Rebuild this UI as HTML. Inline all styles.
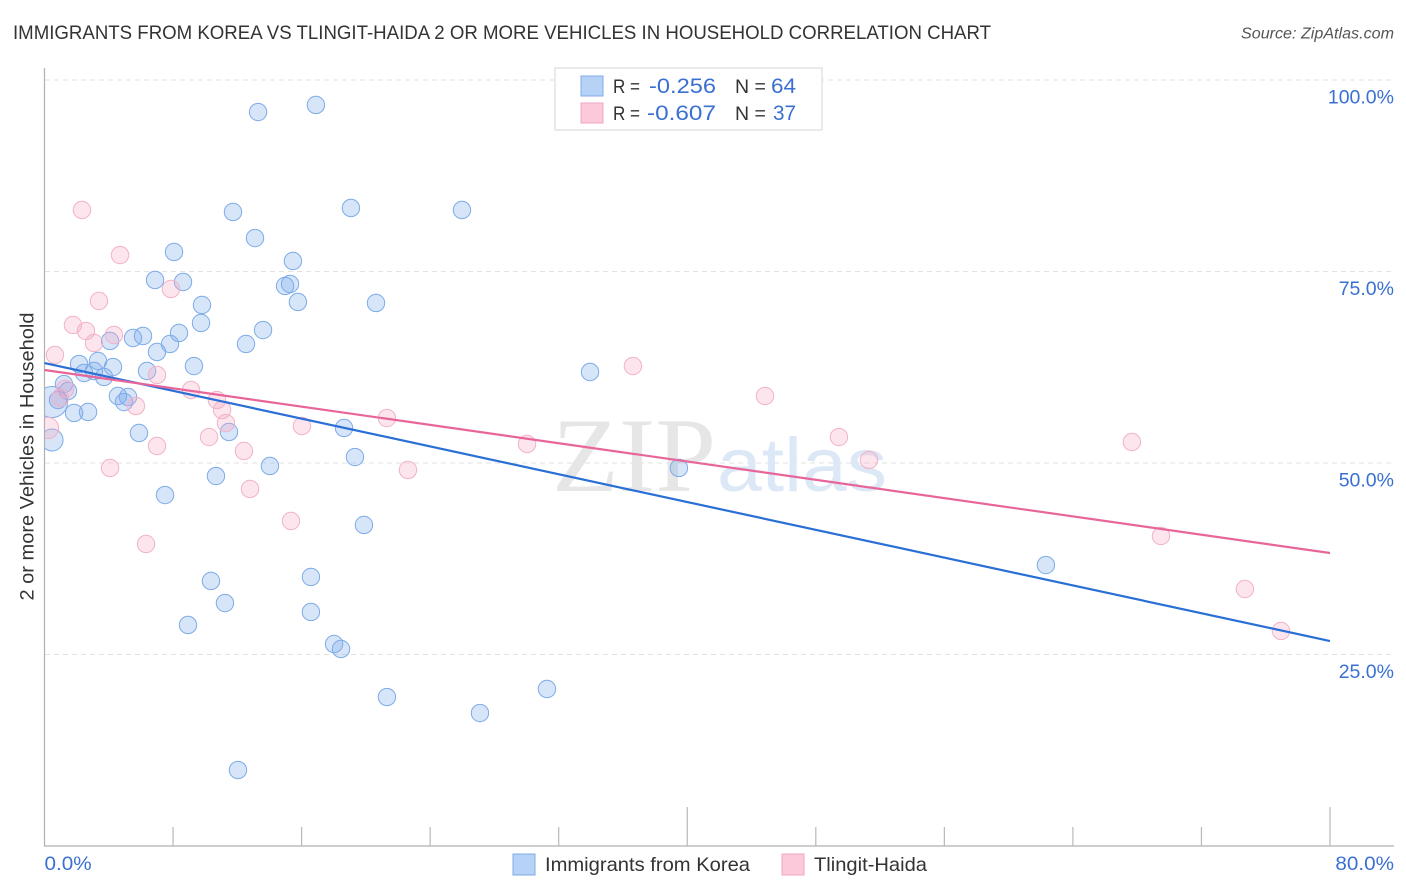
<!DOCTYPE html>
<html lang="en">
<head>
<meta charset="utf-8">
<title>Immigrants from Korea vs Tlingit-Haida correlation chart</title>
<style>
html,body{margin:0;padding:0;background:#fff;}
svg{display:block;font-family:"Liberation Sans",sans-serif;}
</style>
</head>
<body>
<svg id="chart" width="1406" height="892" viewBox="0 0 1406 892" xmlns="http://www.w3.org/2000/svg">
  <defs>
    <clipPath id="plot-clip"><rect x="45" y="60" width="1349" height="786"/></clipPath>
  </defs>
  <text x="13" y="39" font-size="19.5" fill="#333" textLength="978" lengthAdjust="spacingAndGlyphs">IMMIGRANTS FROM KOREA VS TLINGIT-HAIDA 2 OR MORE VEHICLES IN HOUSEHOLD CORRELATION CHART</text>
  <text x="1241" y="38.5" font-size="15.5" font-style="italic" fill="#555" textLength="153" lengthAdjust="spacingAndGlyphs">Source: ZipAtlas.com</text>

  <g id="grid"></g>

  <g>
    <text x="552" y="491" font-family="'Liberation Serif',serif" font-size="106" fill="#e6e6e6" textLength="164" lengthAdjust="spacingAndGlyphs">ZIP</text>
    <text x="717" y="491" font-family="'Liberation Sans',sans-serif" font-size="76" fill="#dde8f7" textLength="170" lengthAdjust="spacingAndGlyphs">atlas</text>
  </g>

  <g id="axes">
    <line x1="44.5" y1="68" x2="44.5" y2="846" stroke="#b0b0b0" stroke-width="1.2"/>
    <line x1="44" y1="846" x2="1394" y2="846" stroke="#b0b0b0" stroke-width="1.2"/>
  </g>

  <g id="korea-points" clip-path="url(#plot-clip)"></g>
  <g id="tlingit-points" clip-path="url(#plot-clip)"></g>
  <g id="trend-lines"></g>

  <text transform="translate(33.5 456.5) rotate(-90)" font-size="19" fill="#333" text-anchor="middle" textLength="288" lengthAdjust="spacingAndGlyphs">2 or more Vehicles in Household</text>

  <g>
    <rect x="555" y="68" width="267" height="62" fill="#fff" stroke="#ddd" stroke-width="1.2"/>
    <rect x="581" y="76" width="22" height="20" fill="#b6d2f6" stroke="#7fabe6" stroke-width="1"/>
    <rect x="581" y="103" width="22" height="20" fill="#fbc9da" stroke="#f2a6c1" stroke-width="1"/>
    <text x="613" y="93" font-size="19.5" fill="#333" textLength="27" lengthAdjust="spacingAndGlyphs">R =</text>
    <text x="649" y="93" font-size="21" fill="#3a70d2" textLength="67" lengthAdjust="spacingAndGlyphs">-0.256</text>
    <text x="735" y="93" font-size="19.5" fill="#333">N =</text>
    <text x="771" y="93" font-size="21" fill="#3a70d2" textLength="25" lengthAdjust="spacingAndGlyphs">64</text>
    <text x="613" y="120" font-size="19.5" fill="#333" textLength="27" lengthAdjust="spacingAndGlyphs">R =</text>
    <text x="647" y="120" font-size="21" fill="#3a70d2" textLength="69" lengthAdjust="spacingAndGlyphs">-0.607</text>
    <text x="735" y="120" font-size="19.5" fill="#333">N =</text>
    <text x="773" y="120" font-size="21" fill="#3a70d2" textLength="23" lengthAdjust="spacingAndGlyphs">37</text>
  </g>

  <g id="tick-labels"></g>

  <g>
    <rect x="513" y="854" width="22" height="21" fill="#b6d2f6" stroke="#7fabe6" stroke-width="1"/>
    <text x="545" y="871" font-size="19.5" fill="#333" textLength="205" lengthAdjust="spacingAndGlyphs">Immigrants from Korea</text>
    <rect x="782" y="854" width="22" height="21" fill="#fbc9da" stroke="#f2a6c1" stroke-width="1"/>
    <text x="814" y="871" font-size="19.5" fill="#333" textLength="113" lengthAdjust="spacingAndGlyphs">Tlingit-Haida</text>
  </g>
</svg>
<script>
const koreaX = [13.29,16.89,11.73,19.07,25.98,13.10,8.06,15.46,6.88,8.62,14.97,15.28,15.77,9.80,20.63,9.74,13.60,8.37,6.13,5.51,4.08,12.54,7.81,7.00,3.33,2.15,9.30,4.26,6.38,2.46,3.08,3.70,33.95,1.21,1.46,4.57,5.20,4.95,0.84,0.47,1.84,2.71,18.64,5.88,11.48,0.47,19.32,14.03,39.48,10.67,7.50,19.88,62.32,16.58,10.36,11.23,16.58,8.93,18.02,18.45,31.27,21.31,27.10,12.04];
const koreaY = [95.82,96.74,82.77,83.29,83.03,79.37,77.55,76.37,73.89,73.63,73.11,73.37,71.02,70.63,70.89,68.28,67.36,66.97,66.58,66.32,65.93,65.54,65.54,64.49,63.32,62.92,62.66,62.53,62.01,61.75,62.01,61.23,61.88,60.31,59.40,58.75,58.62,57.96,58.22,57.96,56.53,56.66,54.57,53.92,54.05,53.00,50.78,49.61,49.35,48.30,45.82,41.91,36.68,35.12,34.60,31.72,30.55,28.85,26.37,25.72,20.50,19.45,17.36,9.92];
const koreaWeight = [1,1,1,1,1,1,1,1,1,1,1,1,1,1,1,1,1,1,1,1,1,1,1,1,1,1,1,1,1,1,1,1,1,1,1,1,1,1,1,3.2,1,1,1,1,1,1.6,1,1,1,1,1,1,1,1,1,1,1,1,1,1,1,1,1,1];
const tlingitX = [2.33,4.70,7.87,3.39,1.77,2.58,4.32,3.08,0.65,36.62,7.00,9.12,1.28,0.96,10.73,5.69,44.84,11.05,11.29,21.31,16.02,10.24,30.03,49.44,67.67,7.00,12.41,0.22,4.08,22.62,51.31,12.79,15.34,6.32,69.48,74.70,76.95];
const tlingitY = [83.03,77.15,72.72,71.15,68.02,67.23,66.71,65.67,64.10,62.66,61.49,59.53,59.66,58.49,58.22,57.44,58.75,56.92,55.22,55.87,54.83,53.39,52.48,53.39,52.74,52.22,51.57,54.57,49.35,49.09,50.39,46.61,42.43,39.43,40.47,33.55,28.07];
const tlingitWeight = [1,1,1,1,1,1,1,1,1,1,1,1,1,1,1,1,1,1,1,1,1,1,1,1,1,1,1,1.5,1,1,1,1,1,1,1,1,1];
const trendXs = [0,80];
const koreaTrend = [63.05,26.76];
const tlingitTrend = [62.14,38.25];
const yGridValues = [100,75,50,25];
const yTickLabels = ["100.0%","75.0%","50.0%","25.0%"];
const xTickValues = [0,8,16,24,32,40,48,56,64,72,80];
const xEndValues = [0,80];
const xEndLabels = ["0.0%","80.0%"];

const NS = "http://www.w3.org/2000/svg";
const xScale = v => 44.5 + v * (1330 - 44.5) / 80;
const yScale = v => 846 - v * (846 - 80) / 100;
const make = (tag, parentId) => {
  const el = document.createElementNS(NS, tag);
  document.getElementById(parentId).appendChild(el);
  return el;
};

yGridValues.forEach((v, i) => {
  const line = make("line", "grid");
  
  
  line.setAttribute("x1", 45);
  line.setAttribute("x2", 1394);
  line.setAttribute("y1", yScale(v));
  line.setAttribute("y2", yScale(v));
  line.setAttribute("stroke", "#e2e2e2");
  line.setAttribute("stroke-width", "1");
  line.setAttribute("stroke-dasharray", "5 4");
  const label = make("text", "tick-labels");
  
  
  label.setAttribute("x", 1394);
  label.setAttribute("y", yScale(v) + 23.5);
  label.setAttribute("text-anchor", "end");
  label.setAttribute("font-size", "19.5");
  label.setAttribute("fill", "#3a70d2");
  label.textContent = yTickLabels[i];
});

xTickValues.forEach(v => {
  if (v === 0) return;
  const tick = make("line", "axes");
  
  
  const major = v % 40 === 0;
  tick.setAttribute("x1", xScale(v));
  tick.setAttribute("x2", xScale(v));
  tick.setAttribute("y1", major ? 807 : 827);
  tick.setAttribute("y2", 846);
  tick.setAttribute("stroke", "#b8b8b8");
  tick.setAttribute("stroke-width", "1.2");
});

xEndValues.forEach((v, i) => {
  const label = make("text", "tick-labels");
  
  
  label.setAttribute("x", i === 0 ? xScale(v) : 1394);
  label.setAttribute("y", 870);
  label.setAttribute("text-anchor", i === 0 ? "start" : "end");
  label.setAttribute("font-size", "19.5");
  label.setAttribute("fill", "#3a70d2");
  label.textContent = xEndLabels[i];
  label.setAttribute("lengthAdjust", "spacingAndGlyphs");
  label.setAttribute("textLength", label.getComputedTextLength() * 1.06);
});

koreaX.forEach((v, i) => {
  const c = make("circle", "korea-points");
  
  
  c.setAttribute("cx", xScale(v));
  c.setAttribute("cy", yScale(koreaY[i]));
  c.setAttribute("r", 8.7 * Math.sqrt(koreaWeight[i]));
  c.setAttribute("fill", "rgba(122,170,236,0.30)");
  c.setAttribute("stroke", "#7dabe8");
  c.setAttribute("stroke-width", "1");
});

tlingitX.forEach((v, i) => {
  const c = make("circle", "tlingit-points");
  
  
  c.setAttribute("cx", xScale(v));
  c.setAttribute("cy", yScale(tlingitY[i]));
  c.setAttribute("r", 8.7 * Math.sqrt(tlingitWeight[i]));
  c.setAttribute("fill", "rgba(246,170,196,0.30)");
  c.setAttribute("stroke", "#f2b2c8");
  c.setAttribute("stroke-width", "1");
});

const blueLine = make("line", "trend-lines");


blueLine.setAttribute("x1", xScale(trendXs[0]));
blueLine.setAttribute("y1", yScale(koreaTrend[0]));
blueLine.setAttribute("x2", xScale(trendXs[1]));
blueLine.setAttribute("y2", yScale(koreaTrend[1]));
blueLine.setAttribute("stroke", "#2a6fd6");
blueLine.setAttribute("stroke-width", "2.2");

const pinkLine = make("line", "trend-lines");


pinkLine.setAttribute("x1", xScale(trendXs[0]));
pinkLine.setAttribute("y1", yScale(tlingitTrend[0]));
pinkLine.setAttribute("x2", xScale(trendXs[1]));
pinkLine.setAttribute("y2", yScale(tlingitTrend[1]));
pinkLine.setAttribute("stroke", "#e8659a");
pinkLine.setAttribute("stroke-width", "2.2");
</script>
</body>
</html>
